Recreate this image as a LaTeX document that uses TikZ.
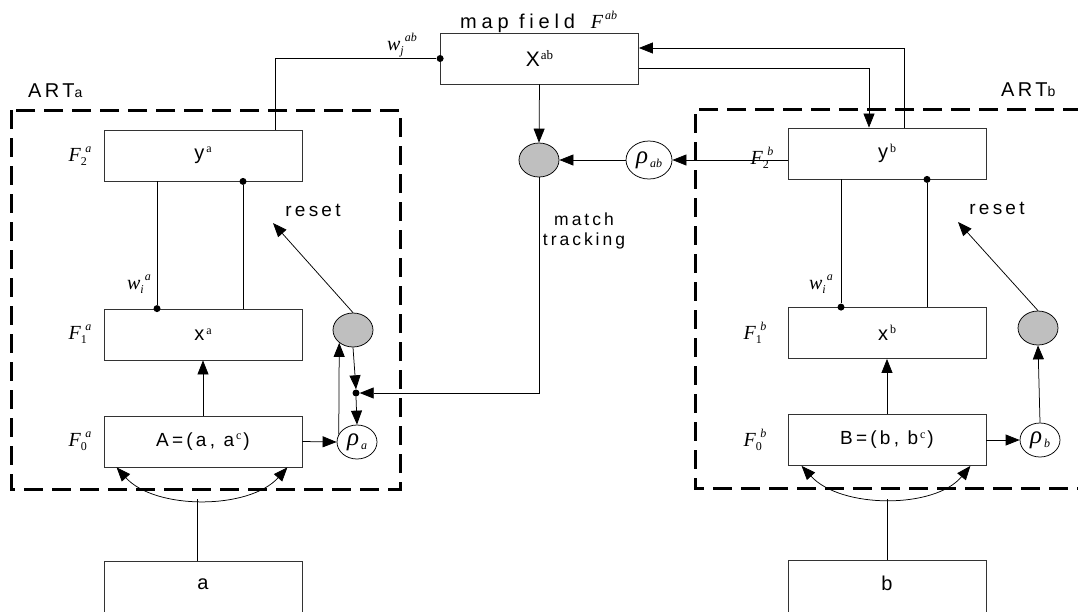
\documentclass[tikz,border=0pt]{standalone}
\usepackage{fontspec}
\setmainfont{Liberation Sans}
\newfontfamily\tms{Liberation Serif}
\newfontfamily\spc[LetterSpace=17]{Liberation Sans}
\newfontfamily\spcw[LetterSpace=24]{Liberation Sans}
\usetikzlibrary{arrows.meta,shapes.geometric}
\newcommand\sps[1]{\hspace{2pt}\raisebox{6.5pt}{\tms\fontsize{12}{12}\selectfont #1}\hspace{2pt}}
\newcommand\lyr[3]{{\tms\itshape\fontsize{20}{20}\selectfont #1}\rlap{\raisebox{-4pt}{\tms\fontsize{12}{12}\selectfont #2}}\hspace{4.5pt}\raisebox{8.5pt}{\tms\itshape\fontsize{12}{12}\selectfont #3}}
\newcommand\rh[1]{{\tms\itshape\fontsize{25}{25}\selectfont ρ}\raisebox{-4pt}{\tms\itshape\fontsize{12}{12}\selectfont\,#1}}
\begin{document}
\begin{tikzpicture}[x=1pt,y=-1pt,
 box/.style={draw=black!80, line width=0.8pt, minimum width=198pt, minimum height=51pt, inner sep=0pt, font=\spc\fontsize{20}{22}\selectfont},
 ln/.style={line width=0.75pt},
 arr/.style={ln, -{Triangle[length=14pt,width=11pt]}},
 darr/.style={ln, {Triangle[length=14pt,width=11pt]}-{Triangle[length=14pt,width=11pt]}},
 dotn/.style={circle, fill=black, inner sep=0pt, minimum size=7pt},
 gnode/.style={ellipse, draw, line width=0.75pt, fill=black!25, minimum width=40pt, minimum height=34pt, inner sep=0pt},
 rnode/.style={ellipse, draw, line width=0.75pt, fill=white, minimum width=40pt, minimum height=34pt, inner sep=0pt},
 dbox/.style={line width=3pt, dash pattern=on 19pt off 9pt},
 lab/.style={inner sep=0pt},
 txt/.style={inner sep=0pt, font=\spc\fontsize{19}{20}\selectfont},
]
\useasboundingbox (0,0) rectangle (1078,611);
\clip (0,0) rectangle (1078,611);
% dashed frames
\draw[dbox] (11,110) rectangle (400,489);
\draw[dbox] (1110,109) -- (695,109) -- (695,488) -- (1110,488);
% boxes left
\node[box] (ya) at (203,155.5) {y\sps{a}};
\node[box] (xa) at (203,334.5) {x\sps{a}};
\node[box, font=\spc\fontsize{19}{22}\selectfont] (A) at (203,441.5) {A=(a, a\sps{c})};
\node[box, minimum height=70pt] (ain) at (203,596) {};
\node[txt, font=\spc\fontsize{20}{22}\selectfont] (ainl) at (203,584) {a};
% boxes right
\node[box] (yb) at (887,153.5) {y\sps{b}};
\node[box] (xb) at (887,333) {x\sps{b}};
\node[box, font=\spc\fontsize{19}{22}\selectfont] (B) at (887,440) {B=(b, b\sps{c})};
\node[box, minimum height=70pt] (bin) at (887,595) {};
\node[txt, font=\spc\fontsize{20}{22}\selectfont] (binl) at (887,583) {b};
% map field
\node[box] (X) at (539.5,58.5) {{\fontsize{21}{22}\selectfont X}\hspace{1pt}\raisebox{7pt}{\tms\fontsize{13}{13}\selectfont ab}};
\node[gnode] (gab) at (539,160) {};
\node[rnode, minimum width=46pt, minimum height=38pt] (rab) at (649,160) {\rh{ab}};
% left reset circuit
\node[gnode] (ga) at (353,330) {};
\node[rnode] (ra) at (357,442) {\rh{a}};
\node[dotn] (da) at (356,393) {};
% right reset circuit
\node[gnode] (gb) at (1038,328) {};
\node[rnode] (rb) at (1040,440) {\rh{b}};
% dots
\node[dotn] (dj) at (X.west) {};
\node[dotn] (d1) at ([xshift=-46pt]xa.north) {};
\node[dotn] (d2) at ([xshift=40pt]ya.south) {};
\node[dotn] (d3) at ([xshift=-46pt]xb.north) {};
\node[dotn] (d4) at ([xshift=40pt]yb.south) {};
\coordinate (resA) at (273,223);
\coordinate (resB) at (958,222);
% connectors left
\draw[ln] ([xshift=72pt]ya.north) |- (dj);
\draw[ln] ([xshift=-46pt]ya.south) -- (d1);
\draw[ln] (d2) -- ([xshift=40pt]xa.north);
\draw[arr] (A.north) -- (xa.south);
\draw[arr] (A.east) -- (ra.west);
\draw[arr] (ra.157) -- (ga.223);
\draw[arr] (ga.south) -- (da.north);
\draw[arr] (da.south) -- (ra.north);
\draw[arr] (ga.north) -- (resA);
\draw[darr] ([xshift=13pt]A.south west) .. controls (155,510) and (249,510) .. ([xshift=-15pt]A.south east);
\draw[ln] ([xshift=-6pt]ain.north) -- ([xshift=-6pt]ain.north |- 0,499);
% map field connectors
\draw[arr] (X.south) -- (gab.north);
\draw[arr] (rab.west) -- (gab.east);
\draw[arr] (yb.west |- rab.east) -- (rab.east);
\draw[arr] (gab.south) |- (da.east);
\draw[arr] ([xshift=17pt]yb.north) |- ([yshift=10.5pt]X.east);
\draw[arr] ([yshift=-9.5pt]X.east) -| ([xshift=-18pt]yb.north);
% connectors right
\draw[ln] ([xshift=-46pt]yb.south) -- (d3);
\draw[ln] (d4) -- ([xshift=40pt]xb.north);
\draw[arr] (B.north) -- (xb.south);
\draw[arr] (B.east) -- (rb.west);
\draw[arr] (rb.north) -- (gb.south);
\draw[arr] (gb.north) -- (resB);
\draw[darr] ([xshift=14pt]B.south west) .. controls (841,509) and (935,509) .. ([xshift=-16pt]B.south east);
\draw[ln] (bin.north) -- (bin.north |- 0,499);
% labels
\node[lab, anchor=base west] (tA) at (28,97) {{\spc\fontsize{20}{20}\selectfont ART}{\fontsize{14}{14}\selectfont a}};
\node[lab, anchor=base west] (tB) at (1001,96) {{\spc\fontsize{20}{20}\selectfont ART}{\fontsize{14}{14}\selectfont b}};
\node[lab, anchor=base west] (tmf) at (460,28) {{\spcw\fontsize{20}{20}\selectfont map field}\hspace{16pt}{\tms\itshape\fontsize{20}{20}\selectfont F}\raisebox{9pt}{\tms\itshape\fontsize{12}{12}\selectfont\,ab}};
\node[lab] (twj) at (402,45) {\lyr{w}{\itshape j}{ab}};
\node[lab] (tF2a) at (80,156) {\lyr{F}{2}{a}};
\node[lab] (tF1a) at (80,334) {\lyr{F}{1}{a}};
\node[lab] (tF0a) at (80,441) {\lyr{F}{0}{a}};
\node[lab] (tF2b) at (762,158) {\lyr{F}{2}{b}};
\node[lab] (tF1b) at (755,333) {\lyr{F}{1}{b}};
\node[lab] (tF0b) at (755,440) {\lyr{F}{0}{b}};
\node[lab] (twa) at (139,284) {\lyr{w}{\itshape i}{a}};
\node[lab] (twb) at (821,284) {\lyr{w}{\itshape i}{a}};
\node[txt] (trA) at (313,210) {reset};
\node[txt] (trB) at (997,208) {reset};
\node[txt, align=center, font=\spc\fontsize{17.5}{20}\selectfont] (tmt) at (584,231) {match\\tracking};
\end{tikzpicture}
\end{document}
